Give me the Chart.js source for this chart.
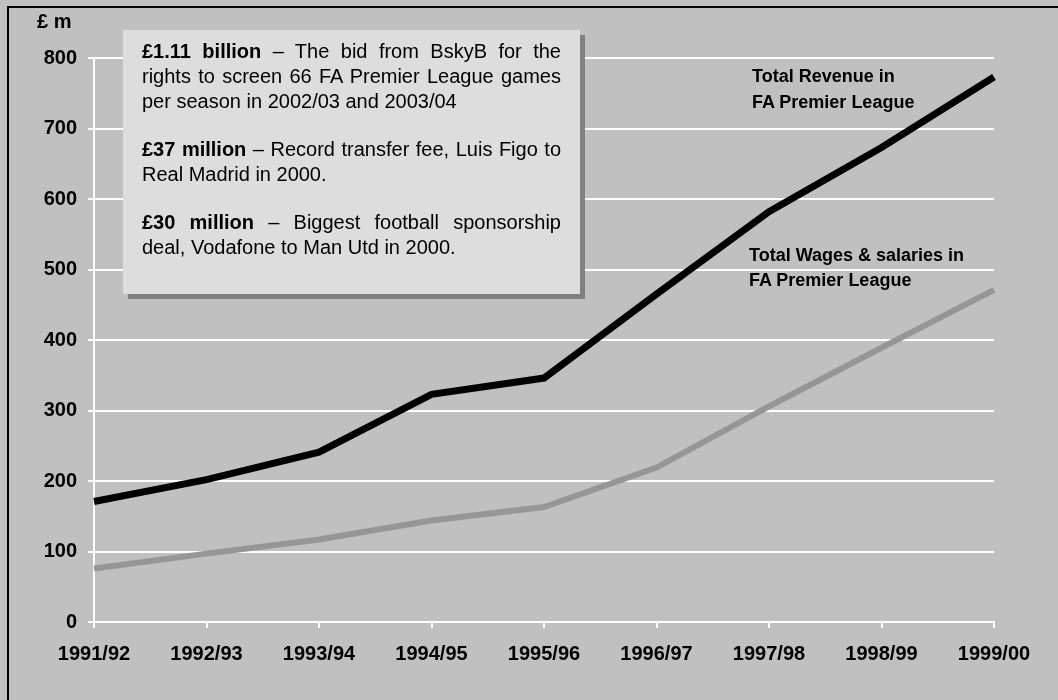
<!DOCTYPE html>
<html>
<head>
<meta charset="utf-8">
<script src="https://cdn.jsdelivr.net/npm/chart.js@4"></script>
<style>
  html, body { margin: 0; padding: 0; }
  body {
    width: 1058px; height: 700px; overflow: hidden;
    background: #c0c0c0; position: relative;
    font-family: "Liberation Sans", Arial, sans-serif;
  }
  #frame {
    position: absolute; left: 7px; top: 6px; width: 1100px; height: 750px;
    border-top: 2px solid #000; border-left: 2px solid #000;
  }
  #chart { position: absolute; left: 0; top: 0; }
  .lbl { position: absolute; font-weight: bold; color: #000; white-space: nowrap; }
  #unit { left: 37px; top: 10px; font-size: 20px; }
  #revLbl { left: 752px; top: 63px; font-size: 18px; line-height: 26px; }
  #wageLbl { left: 749px; top: 243px; font-size: 18px; line-height: 25px; }
  #facts {
    position: absolute; left: 123px; top: 30px; width: 419px; height: 255px;
    padding: 9px 19px 0 19px;
    background: #dddddd; box-shadow: 5px 5px 0 #808080;
    font-size: 20px; line-height: 25px; color: #000;
  }
  #facts p { margin: 0 0 23px 0; text-align: justify; }
</style>
</head>
<body>
<div id="frame"></div>
<canvas id="chart" width="1058" height="700"></canvas>
<div class="lbl" id="unit">£ m</div>
<div class="lbl" id="revLbl">Total Revenue in<br>FA Premier League</div>
<div class="lbl" id="wageLbl">Total Wages &amp; salaries in<br>FA Premier League</div>
<div id="facts">
  <p><b>£1.11 billion</b> – The bid from BskyB for the rights to screen 66 FA Premier League games per season in 2002/03 and 2003/04</p>
  <p><b>£37 million</b> – Record transfer fee, Luis Figo to Real Madrid in 2000.</p>
  <p><b>£30 million</b> – Biggest football sponsorship deal, Vodafone to Man Utd in 2000.</p>
</div>
<script>
// datos (millones de libras)
var seasons = ['1991/92', '1992/93', '1993/94', '1994/95', '1995/96', '1996/97', '1997/98', '1998/99', '1999/00'];
var revenue = [171, 202, 241, 323, 346, 465, 582, 673, 773];
var wages = [76, 97, 117, 144, 163, 219, 306, 389, 471];
var yMin = 0, yMax = 800, yStep = 100;

var tickFont = { family: '"Liberation Sans", Arial, sans-serif', size: 20, weight: 'bold' };

var ctx = document.getElementById('chart').getContext('2d');
var myChart = new Chart(ctx, {
    type: 'line',
    data: {
        labels: seasons,
        datasets: [{
            label: 'Total Revenue in FA Premier League',
            data: revenue,
            borderColor: '#000000',
            borderWidth: 7,
            pointRadius: 0,
            tension: 0
        }, {
            label: 'Total Wages & salaries in FA Premier League',
            data: wages,
            borderColor: '#969696',
            borderWidth: 6,
            pointRadius: 0,
            tension: 0
        }]
    },
    options: {
        responsive: false,
        animation: false,
        layout: { padding: { left: 0, right: 64, top: 58, bottom: 28 } },
        plugins: { legend: { display: false }, tooltip: { enabled: false } },
        scales: {
            x: {
                offset: false,
                grid: { drawOnChartArea: false, drawTicks: true, tickLength: 6, color: '#ffffff', lineWidth: 2 },
                border: { display: true, color: '#ffffff', width: 2 },
                ticks: { color: '#000000', font: tickFont, padding: 14, maxRotation: 0, autoSkip: false },
                afterFit: function(scale) { scale.height = 50; }
            },
            y: {
                min: yMin,
                max: yMax,
                grid: { color: '#ffffff', lineWidth: 2, tickLength: 6 },
                border: { display: true, color: '#ffffff', width: 2 },
                ticks: { stepSize: yStep, color: '#000000', font: tickFont, padding: 11 },
                afterFit: function(scale) { scale.width = 94; }
            }
        }
    }
});
</script>
</body>
</html>
